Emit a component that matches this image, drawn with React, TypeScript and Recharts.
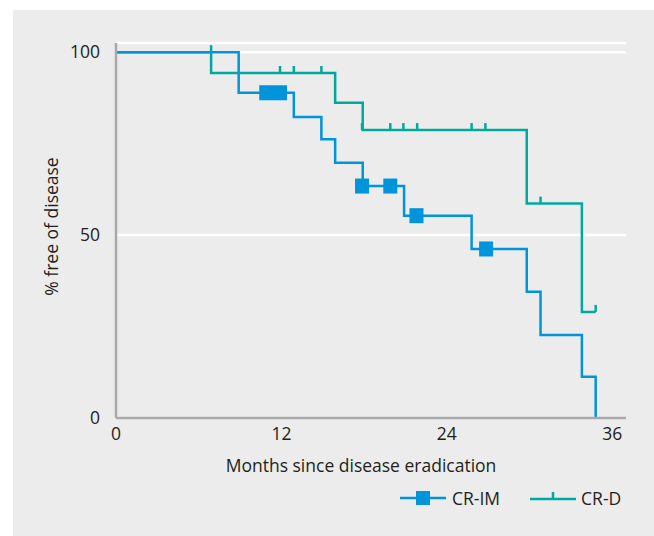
import { ComposedChart, Line, Scatter, XAxis, YAxis, CartesianGrid, Legend } from "recharts";

const BLUE = "#0095DA";
const GREEN = "#00A99D";
const AXIS = "#A7A9AC";
const TEXT = "#231f20";
const FONT = "'Open Sans', sans-serif";
const FS = 17.5;

// CR-IM step curve (months, % free of disease)
const imTimes = [0, 8.9, 12.9, 14.9, 15.9, 17.9, 20.9, 25.8, 29.8, 30.8, 33.8, 34.8];
const imValues = [100, 88.9, 82.3, 76.2, 69.8, 63.4, 55.3, 46.2, 34.5, 22.7, 11.3, 0];
const imCensorTimes = [10.9, 11.9, 17.85, 19.9, 21.8, 26.85];
const imCensorValues = [88.9, 88.9, 63.4, 63.4, 55.3, 46.2];

// CR-D step curve
const dTimes = [0, 6.9, 15.9, 17.9, 29.8, 33.8, 34.8];
const dValues = [100, 94.3, 86.2, 78.7, 58.6, 29.0, 29.0];
const dCensorTimes = [6.9, 11.9, 12.9, 14.9, 17.85, 19.9, 20.85, 21.85, 25.8, 26.8, 30.8, 34.8];
const dCensorValues = [100, 94.3, 94.3, 94.3, 78.7, 78.7, 78.7, 78.7, 78.7, 78.7, 58.6, 29.0];

const xTicks = [0, 12, 24, 36];
const yTicks = [0, 50, 100];

const zip = (ts: number[], vs: number[]) => ts.map((t, i) => ({ t, v: vs[i] }));

const imData = zip(imTimes, imValues);
const imCensor = zip(imCensorTimes, imCensorValues);
const dData = zip(dTimes, dValues);
const dCensor = zip(dCensorTimes, dCensorValues);

const Square = (props: any) => {
  const { cx, cy } = props;
  if (cx == null || cy == null) return null;
  return <rect x={cx - 7} y={cy - 7.5} width={14} height={15} fill={BLUE} />;
};

const Tick = (props: any) => {
  const { cx, cy } = props;
  if (cx == null || cy == null) return null;
  return <line x1={cx} x2={cx} y1={cy} y2={cy - 7} stroke={GREEN} strokeWidth={2.5} />;
};

const LegendContent = () => (
  <div style={{ display: "flex", alignItems: "center", fontFamily: FONT, fontSize: FS, color: TEXT, whiteSpace: "nowrap" }}>
    <svg width={47} height={20}>
      <line x1={0} x2={46} y1={10} y2={10} stroke={BLUE} strokeWidth={2.5} />
      <rect x={16} y={3} width={14} height={14} fill={BLUE} />
    </svg>
    <span style={{ marginLeft: 5, marginRight: 30 }}>CR-IM</span>
    <svg width={47} height={20}>
      <line x1={0} x2={46} y1={11} y2={11} stroke={GREEN} strokeWidth={2.5} />
      <line x1={23} x2={23} y1={11} y2={4} stroke={GREEN} strokeWidth={2.5} />
    </svg>
    <span style={{ marginLeft: 4 }}>CR-D</span>
  </div>
);

export default function App() {
  return (
    <div style={{ position: "absolute", left: 0, top: 0, width: 654, height: 536, background: "#fff" }}>
      <div style={{ position: "absolute", left: 13, top: 10, width: 641, height: 526, background: "#EBECEB" }}>
        <ComposedChart width={641} height={526} margin={{ top: 33, right: 28, bottom: 88, left: 43 }}>
          <CartesianGrid vertical={false} stroke="#ffffff" strokeWidth={2.5} />
          <XAxis
            type="number"
            dataKey="t"
            domain={[0, 37]}
            ticks={xTicks}
            height={30}
            tickLine={false}
            tickMargin={4}
            stroke={AXIS}
            strokeWidth={2.5}
            tick={{ fill: TEXT, fontSize: FS, fontFamily: FONT }}
            label={{ value: "Months since disease eradication", position: "insideBottom", offset: -24, dx: -10, fill: TEXT, fontSize: FS, fontFamily: FONT }}
          />
          <YAxis
            type="number"
            dataKey="v"
            domain={[0, 102.5]}
            ticks={yTicks}
            width={60}
            tickLine={false}
            tickMargin={10}
            stroke={AXIS}
            strokeWidth={2.5}
            tick={{ fill: TEXT, fontSize: FS, fontFamily: FONT }}
            label={{ value: "% free of disease", angle: -90, position: "insideLeft", offset: -4, dy: -4, fill: TEXT, fontSize: FS, fontFamily: FONT, style: { textAnchor: "middle" } }}
          />
          <Line data={dData} dataKey="v" type="stepAfter" stroke={GREEN} strokeWidth={2.5} dot={false} isAnimationActive={false} />
          <Line data={imData} dataKey="v" type="stepAfter" stroke={BLUE} strokeWidth={2.5} dot={false} isAnimationActive={false} />
          <Scatter data={dCensor} dataKey="v" shape={<Tick />} isAnimationActive={false} />
          <Scatter data={imCensor} dataKey="v" shape={<Square />} isAnimationActive={false} />
          <Legend
            layout="vertical"
            align="center"
            verticalAlign="middle"
            content={<LegendContent />}
            wrapperStyle={{ left: 387, top: 476, width: 250 }}
          />
        </ComposedChart>
      </div>
    </div>
  );
}
